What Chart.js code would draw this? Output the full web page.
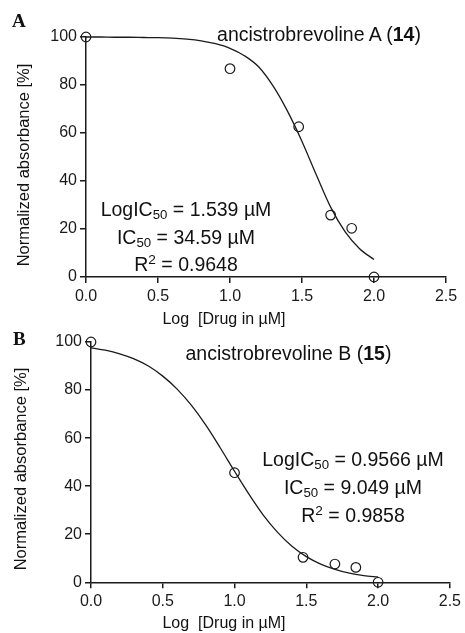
<!DOCTYPE html>
<html>
<head>
<meta charset="utf-8">
<script src="https://cdn.jsdelivr.net/npm/chart.js@4.4.1/dist/chart.umd.min.js"></script>
<style>
  html, body { margin: 0; padding: 0; background: #fff; }
  #wrap { position: relative; width: 465px; height: 633px; overflow: hidden; font-family: "Liberation Sans", Arial, sans-serif; color: #111; }
  .box { position: absolute; left: 0; width: 465px; }
  .t { position: absolute; white-space: pre; text-align: center; }
  .title { font-size: 19.5px; line-height: 22px; }
  .stats { font-size: 19.5px; text-align: center; }
  .stats span.sub { font-size: 0.68em; vertical-align: -0.25em; line-height: 0; }
  .stats span.sup { font-size: 0.7em; vertical-align: 0.55em; line-height: 0; }
  .xt { font-size: 16px; line-height: 18px; width: 160px; }
  .yt { font-size: 16.5px; line-height: 18px; width: 260px; transform: rotate(-90deg); }
  .panel { font-family: "Liberation Serif", "Times New Roman", serif; font-weight: bold; font-size: 19px; line-height: 20px; }
</style>
</head>
<body>
<div id="wrap">
  <div class="box" style="top:0; height:316px;"><canvas id="chartA"></canvas></div>
  <div class="box" style="top:316px; height:317px;"><canvas id="chartB"></canvas></div>

  <div class="t panel" style="left:12px; top:10.6px;">A</div>
  <div class="t panel" style="left:13px; top:328.6px;">B</div>

  <div class="t title" style="left:209px; top:23px; width:220px;">ancistrobrevoline A (<b>14</b>)</div>
  <div class="t title" style="left:178.5px; top:342.3px; width:220px;">ancistrobrevoline B (<b>15</b>)</div>

  <div class="t stats" style="left:76px; top:196px; width:220px; line-height:27.5px;">LogIC<span class="sub">50</span> = 1.539 µM
IC<span class="sub">50</span> = 34.59 µM
R<span class="sup">2</span> = 0.9648</div>
  <div class="t stats" style="left:243px; top:446.2px; width:220px; line-height:27.8px;">LogIC<span class="sub">50</span> = 0.9566 µM
IC<span class="sub">50</span> = 9.049 µM
R<span class="sup">2</span> = 0.9858</div>

  <div class="t xt" style="left:144px; top:309.5px;">Log  [Drug in µM]</div>
  <div class="t xt" style="left:144px; top:613.5px;">Log  [Drug in µM]</div>

  <div class="t yt" style="left:-106.9px; top:156px;">Normalized absorbance [%]</div>
  <div class="t yt" style="left:-109.9px; top:460px;">Normalized absorbance [%]</div>
</div>

<script>
// axis ticks
const xTicks = [0, 0.5, 1.0, 1.5, 2.0, 2.5];
const yTicks = [0, 20, 40, 60, 80, 100];

// measured points (log concentration vs normalized absorbance)
const logDose = [0, 1.0, 1.477, 1.699, 1.845, 2.0];
const absA = [100, 86.8, 62.6, 25.8, 20.3, 0];
const absB = [100, 45.6, 10.4, 7.6, 6.2, 0];

// fitted curves, every 0.1 log unit
const curveX = [0, 0.1, 0.2, 0.3, 0.4, 0.5, 0.6, 0.7, 0.8, 0.9, 1.0,
                1.1, 1.2, 1.3, 1.4, 1.5, 1.6, 1.7, 1.8, 1.9, 2.0];
const fitA = [100, 100, 99.9, 99.9, 99.8, 99.7, 99.5, 99.1, 98.4, 97.2, 95.3,
              92.2, 87.5, 79.5, 69.0, 56.5, 42.5, 29.0, 18.8, 11.8, 7.3];
const fitB = [97.6, 96.6, 95.1, 93.0, 90.0, 85.8, 80.4, 73.6, 65.4, 56.0, 46.2,
              36.7, 28.0, 20.8, 15.0, 10.7, 7.6, 5.4, 3.8, 2.8, 2.2];

const ink = '#1a1a1a';
const tickFont = { family: '"Liberation Sans", Arial, sans-serif', size: 16 };

function makeChart(id, pointsY, curveY, frame) {
    const ctx = document.getElementById(id).getContext('2d');
    return new Chart(ctx, {
        type: 'scatter',
        data: {
            datasets: [
                {
                    data: curveX.map((x, i) => ({ x: x, y: curveY[i] })),
                    showLine: true,
                    borderColor: ink,
                    borderWidth: 1.3,
                    pointRadius: 0,
                    cubicInterpolationMode: 'monotone',
                    clip: false
                },
                {
                    data: logDose.map((x, i) => ({ x: x, y: pointsY[i] })),
                    showLine: false,
                    pointStyle: 'circle',
                    pointRadius: 4.8,
                    borderWidth: 1.2,
                    borderColor: ink,
                    backgroundColor: 'rgba(0,0,0,0)',
                    clip: false
                }
            ]
        },
        options: {
            responsive: true,
            maintainAspectRatio: false,
            animation: false,
            events: [],
            layout: { padding: { left: 0, top: frame.top, right: frame.right, bottom: 0 } },
            plugins: { legend: { display: false }, tooltip: { enabled: false } },
            scales: {
                x: {
                    type: 'linear',
                    min: 0,
                    max: 2.5,
                    afterBuildTicks: s => { s.ticks = xTicks.map(v => ({ value: v })); },
                    afterFit: s => { s.height = frame.xHeight; },
                    ticks: { color: ink, font: tickFont, padding: 4, maxRotation: 0,
                             callback: v => Number(v).toFixed(1) },
                    grid: { drawOnChartArea: false, tickLength: 6, color: ink, lineWidth: 1.5 },
                    border: { display: true, color: ink, width: 1.5 }
                },
                y: {
                    type: 'linear',
                    min: 0,
                    max: 100,
                    afterBuildTicks: s => { s.ticks = yTicks.map(v => ({ value: v })); },
                    afterFit: s => { s.width = frame.yWidth; },
                    ticks: { color: ink, font: tickFont, padding: 3 },
                    grid: { drawOnChartArea: false, tickLength: 6, color: ink, lineWidth: 1.5 },
                    border: { display: true, color: ink, width: 1.5 }
                }
            }
        }
    });
}

makeChart('chartA', absA, fitA, { top: 37, right: 19, xHeight: 39, yWidth: 86 });
makeChart('chartB', absB, fitB, { top: 26, right: 13.3, xHeight: 50.7, yWidth: 91 });
</script>
</body>
</html>
